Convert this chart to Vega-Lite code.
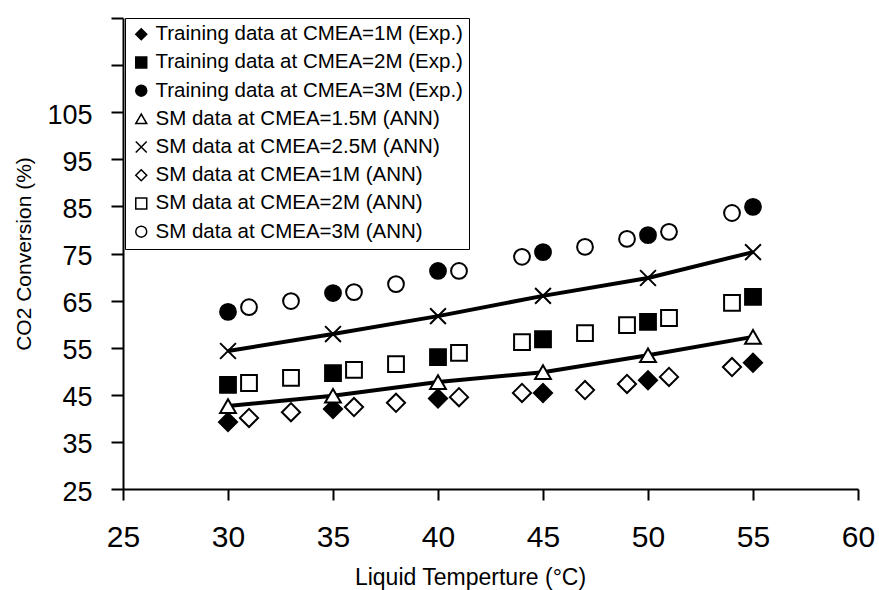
{
  "$schema": "https://vega.github.io/schema/vega-lite/v6.json",
  "autosize": {"type": "none"},
  "padding": {"left": 123, "top": 18, "right": 21, "bottom": 101},
  "width": 735,
  "height": 471,
  "background": "white",
  "config": {
    "view": {"stroke": null},
    "font": "Liberation Sans",
    "axis": {
      "grid": false,
      "domainColor": "black",
      "domainWidth": 2,
      "tickColor": "black",
      "tickWidth": 2,
      "labelColor": "black",
      "titleColor": "black",
      "labelFont": "Liberation Sans",
      "titleFont": "Liberation Sans",
      "titleFontWeight": "normal",
      "labelFlush": false
    },
    "legend": {
      "labelFont": "Liberation Sans",
      "labelColor": "black",
      "labelLimit": 500
    }
  },
  "data": {
    "values": [
      {"s": "Training data at CMEA=1M (Exp.)", "x": 30, "y": 39.2},
      {"s": "Training data at CMEA=1M (Exp.)", "x": 35, "y": 42.0},
      {"s": "Training data at CMEA=1M (Exp.)", "x": 40, "y": 44.2},
      {"s": "Training data at CMEA=1M (Exp.)", "x": 45, "y": 45.4},
      {"s": "Training data at CMEA=1M (Exp.)", "x": 50, "y": 48.1},
      {"s": "Training data at CMEA=1M (Exp.)", "x": 55, "y": 51.8},
      {"s": "Training data at CMEA=2M (Exp.)", "x": 30, "y": 47.1},
      {"s": "Training data at CMEA=2M (Exp.)", "x": 35, "y": 49.6},
      {"s": "Training data at CMEA=2M (Exp.)", "x": 40, "y": 53.0},
      {"s": "Training data at CMEA=2M (Exp.)", "x": 45, "y": 56.8},
      {"s": "Training data at CMEA=2M (Exp.)", "x": 50, "y": 60.5},
      {"s": "Training data at CMEA=2M (Exp.)", "x": 55, "y": 65.8},
      {"s": "Training data at CMEA=3M (Exp.)", "x": 30, "y": 62.6},
      {"s": "Training data at CMEA=3M (Exp.)", "x": 35, "y": 66.6},
      {"s": "Training data at CMEA=3M (Exp.)", "x": 40, "y": 71.3},
      {"s": "Training data at CMEA=3M (Exp.)", "x": 45, "y": 75.3},
      {"s": "Training data at CMEA=3M (Exp.)", "x": 50, "y": 78.9},
      {"s": "Training data at CMEA=3M (Exp.)", "x": 55, "y": 84.9},
      {"s": "SM data at CMEA=1.5M (ANN)", "x": 30, "y": 42.6},
      {"s": "SM data at CMEA=1.5M (ANN)", "x": 35, "y": 44.8},
      {"s": "SM data at CMEA=1.5M (ANN)", "x": 40, "y": 47.7},
      {"s": "SM data at CMEA=1.5M (ANN)", "x": 45, "y": 49.8},
      {"s": "SM data at CMEA=1.5M (ANN)", "x": 50, "y": 53.4},
      {"s": "SM data at CMEA=1.5M (ANN)", "x": 55, "y": 57.3},
      {"s": "SM data at CMEA=2.5M (ANN)", "x": 30, "y": 54.3},
      {"s": "SM data at CMEA=2.5M (ANN)", "x": 35, "y": 57.9},
      {"s": "SM data at CMEA=2.5M (ANN)", "x": 40, "y": 61.7},
      {"s": "SM data at CMEA=2.5M (ANN)", "x": 45, "y": 66.0},
      {"s": "SM data at CMEA=2.5M (ANN)", "x": 50, "y": 69.8},
      {"s": "SM data at CMEA=2.5M (ANN)", "x": 55, "y": 75.3},
      {"s": "SM data at CMEA=1M (ANN)", "x": 31, "y": 40.1},
      {"s": "SM data at CMEA=1M (ANN)", "x": 33, "y": 41.3},
      {"s": "SM data at CMEA=1M (ANN)", "x": 36, "y": 42.4},
      {"s": "SM data at CMEA=1M (ANN)", "x": 38, "y": 43.3},
      {"s": "SM data at CMEA=1M (ANN)", "x": 41, "y": 44.5},
      {"s": "SM data at CMEA=1M (ANN)", "x": 44, "y": 45.4},
      {"s": "SM data at CMEA=1M (ANN)", "x": 47, "y": 46.0},
      {"s": "SM data at CMEA=1M (ANN)", "x": 49, "y": 47.3},
      {"s": "SM data at CMEA=1M (ANN)", "x": 51, "y": 48.8},
      {"s": "SM data at CMEA=1M (ANN)", "x": 54, "y": 50.9},
      {"s": "SM data at CMEA=2M (ANN)", "x": 31, "y": 47.5},
      {"s": "SM data at CMEA=2M (ANN)", "x": 33, "y": 48.6},
      {"s": "SM data at CMEA=2M (ANN)", "x": 36, "y": 50.3},
      {"s": "SM data at CMEA=2M (ANN)", "x": 38, "y": 51.5},
      {"s": "SM data at CMEA=2M (ANN)", "x": 41, "y": 53.9},
      {"s": "SM data at CMEA=2M (ANN)", "x": 44, "y": 56.2},
      {"s": "SM data at CMEA=2M (ANN)", "x": 47, "y": 58.1},
      {"s": "SM data at CMEA=2M (ANN)", "x": 49, "y": 59.8},
      {"s": "SM data at CMEA=2M (ANN)", "x": 51, "y": 61.3},
      {"s": "SM data at CMEA=2M (ANN)", "x": 54, "y": 64.5},
      {"s": "SM data at CMEA=3M (ANN)", "x": 31, "y": 63.6},
      {"s": "SM data at CMEA=3M (ANN)", "x": 33, "y": 64.9},
      {"s": "SM data at CMEA=3M (ANN)", "x": 36, "y": 66.8},
      {"s": "SM data at CMEA=3M (ANN)", "x": 38, "y": 68.5},
      {"s": "SM data at CMEA=3M (ANN)", "x": 41, "y": 71.3},
      {"s": "SM data at CMEA=3M (ANN)", "x": 44, "y": 74.3},
      {"s": "SM data at CMEA=3M (ANN)", "x": 47, "y": 76.4},
      {"s": "SM data at CMEA=3M (ANN)", "x": 49, "y": 78.1},
      {"s": "SM data at CMEA=3M (ANN)", "x": 51, "y": 79.6},
      {"s": "SM data at CMEA=3M (ANN)", "x": 54, "y": 83.6}
    ]
  },
  "encoding": {
    "x": {
      "field": "x", "type": "quantitative",
      "scale": {"domain": [25, 60], "nice": false, "zero": false},
      "axis": {
        "title": "Liquid Temperture (°C)",
        "values": [25, 30, 35, 40, 45, 50, 55, 60],
        "tickSize": 11,
        "labelFontSize": 30,
        "labelPadding": 22,
        "titleFontSize": 23,
        "titlePadding": 14,
        "titleX": 347
      }
    },
    "y": {
      "field": "y", "type": "quantitative",
      "scale": {"domain": [25, 125], "nice": false, "zero": false},
      "axis": {
        "title": "CO2 Conversion (%)",
        "values": [25, 35, 45, 55, 65, 75, 85, 95, 105, 115, 125],
        "labelExpr": "datum.value >= 115 ? '' : datum.label",
        "tickSize": 12,
        "labelFontSize": 27,
        "labelPadding": 19,
        "labelOffset": 3,
        "titleFontSize": 21,
        "titlePadding": 12
      }
    }
  },
  "layer": [
    {
      "transform": [{"filter": {"field": "s", "oneOf": ["SM data at CMEA=1.5M (ANN)", "SM data at CMEA=2.5M (ANN)"]}}],
      "mark": {"type": "line", "color": "black", "strokeWidth": 4},
      "encoding": {
        "detail": {"field": "s"}
      }
    },
    {
      "transform": [{"filter": {"field": "s", "oneOf": ["Training data at CMEA=1M (Exp.)", "SM data at CMEA=1M (ANN)"]}}],
      "mark": {"type": "point", "filled": true, "strokeWidth": 2, "opacity": 1, "size": 330},
      "encoding": {
        "shape": {
          "field": "s", "type": "nominal",
          "scale": {
            "domain": ["Training data at CMEA=1M (Exp.)", "Training data at CMEA=2M (Exp.)", "Training data at CMEA=3M (Exp.)", "SM data at CMEA=1.5M (ANN)", "SM data at CMEA=2.5M (ANN)", "SM data at CMEA=1M (ANN)", "SM data at CMEA=2M (ANN)", "SM data at CMEA=3M (ANN)"],
            "range": ["diamond", "square", "circle", "triangle-up", "M-1,-1L1,1M-1,1L1,-1", "diamond", "square", "circle"]
          },
          "legend": {
            "title": null,
            "orient": "none",
            "legendX": 2,
            "legendY": 0,
            "padding": 6,
            "rowPadding": 7.2,
            "labelFontSize": 20.5,
            "labelOffset": 4,
            "labelLimit": 500,
            "symbolSize": 120,
            "symbolStrokeWidth": 1.5,
            "symbolStrokeColor": "black",
            "strokeColor": "black",
            "fillColor": "white",
            "encode": {"legend": {"update": {"strokeWidth": {"value": 2}}}}
          }
        },
        "fill": {
          "field": "s", "type": "nominal",
          "scale": {
            "domain": ["Training data at CMEA=1M (Exp.)", "Training data at CMEA=2M (Exp.)", "Training data at CMEA=3M (Exp.)", "SM data at CMEA=1.5M (ANN)", "SM data at CMEA=2.5M (ANN)", "SM data at CMEA=1M (ANN)", "SM data at CMEA=2M (ANN)", "SM data at CMEA=3M (ANN)"],
            "range": ["black", "black", "black", "white", "white", "white", "white", "white"]
          }
        },
        "stroke": {
          "field": "s", "type": "nominal",
          "scale": {
            "domain": ["Training data at CMEA=1M (Exp.)", "Training data at CMEA=2M (Exp.)", "Training data at CMEA=3M (Exp.)", "SM data at CMEA=1.5M (ANN)", "SM data at CMEA=2.5M (ANN)", "SM data at CMEA=1M (ANN)", "SM data at CMEA=2M (ANN)", "SM data at CMEA=3M (ANN)"],
            "range": ["black", "black", "black", "black", "black", "black", "black", "black"]
          }
        }
      }
    },
    {
      "transform": [{"filter": {"not": {"field": "s", "oneOf": ["Training data at CMEA=1M (Exp.)", "SM data at CMEA=1M (ANN)"]}}}],
      "mark": {"type": "point", "filled": true, "strokeWidth": 2, "opacity": 1, "size": 250},
      "encoding": {
        "shape": {"field": "s", "type": "nominal"},
        "fill": {"field": "s", "type": "nominal"},
        "stroke": {"field": "s", "type": "nominal"}
      }
    }
  ]
}
